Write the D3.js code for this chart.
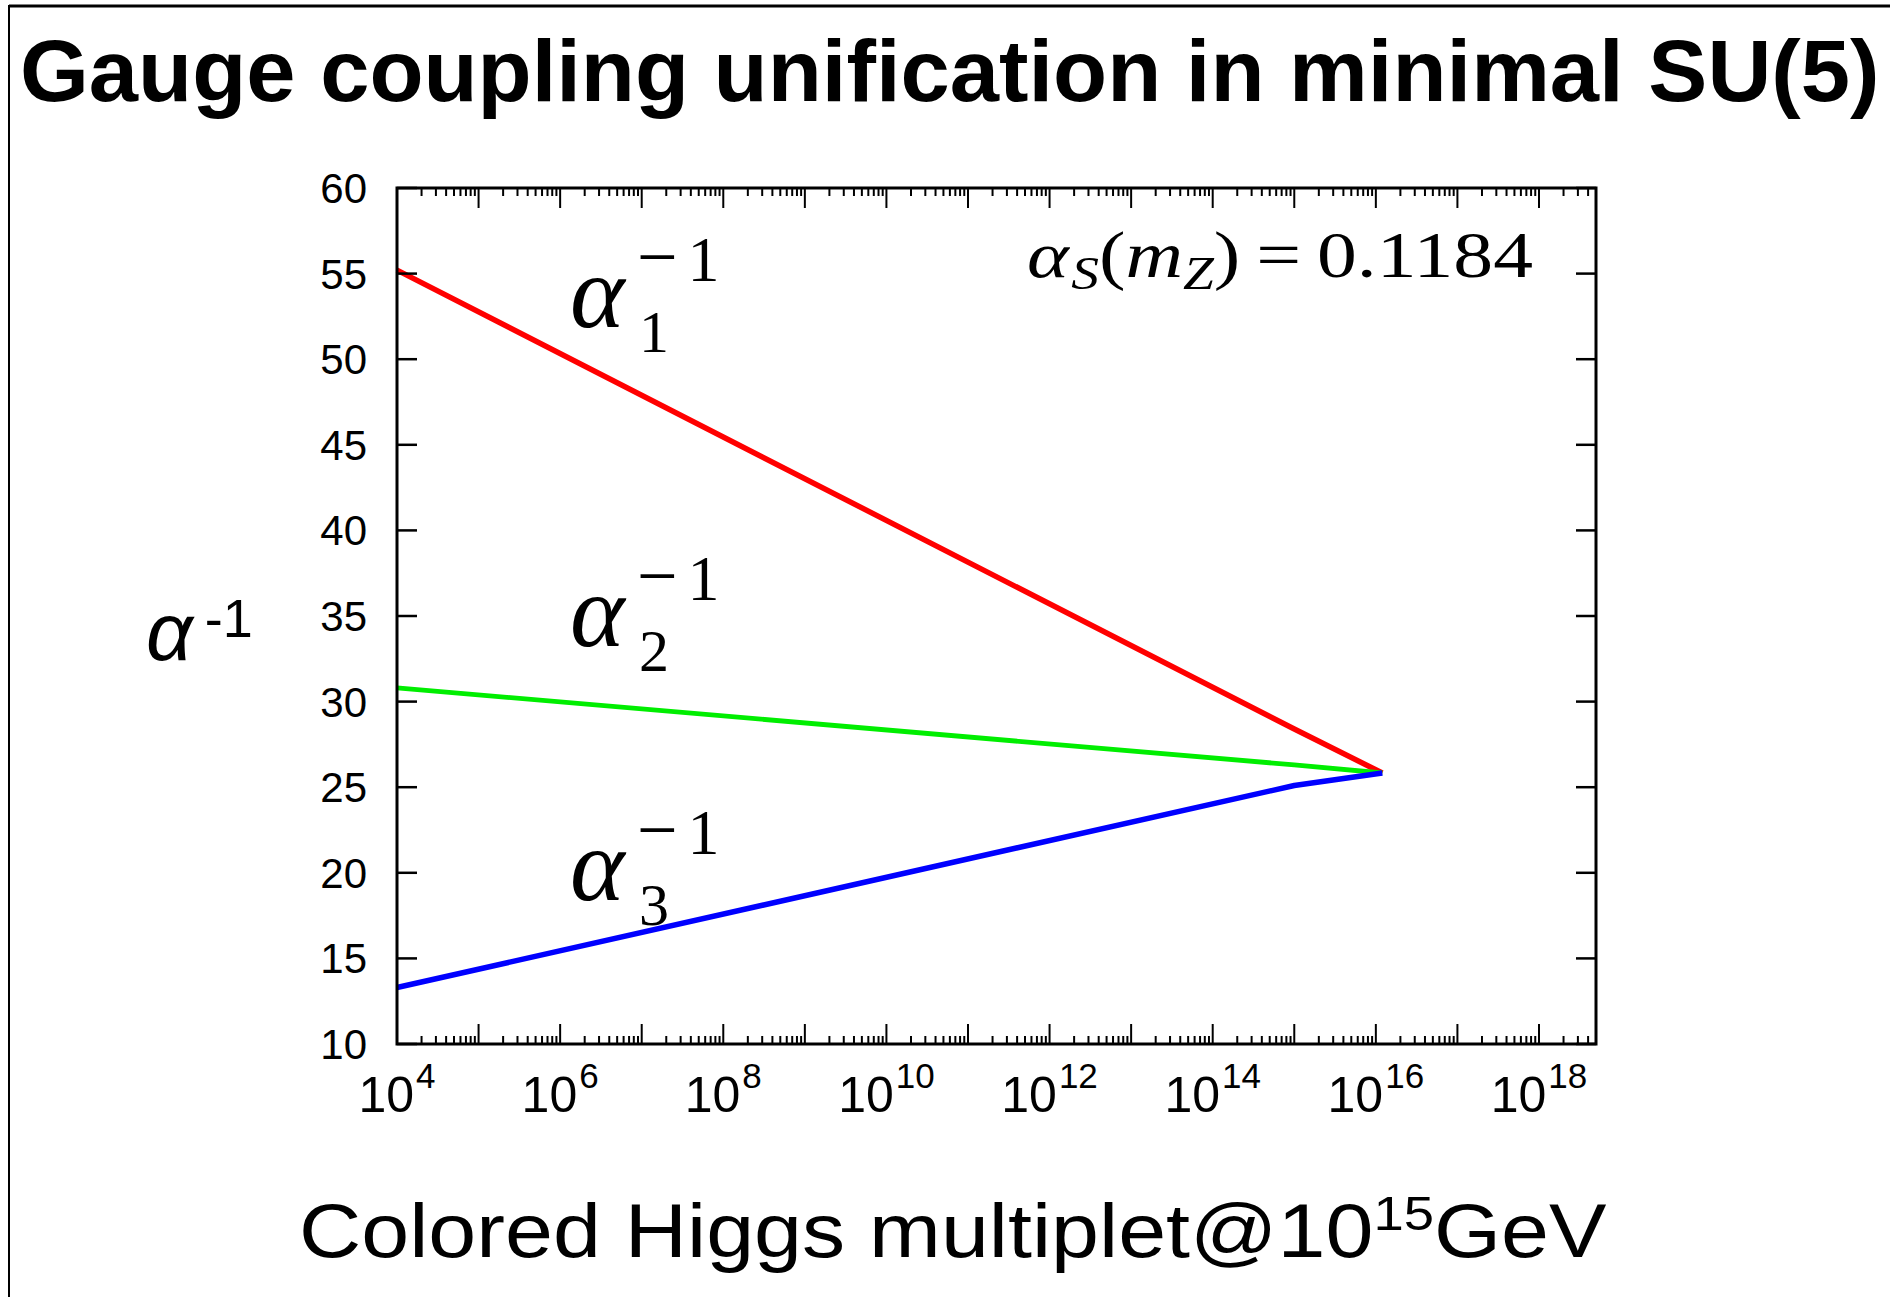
<!DOCTYPE html>
<html>
<head>
<meta charset="utf-8">
<script src="https://cdn.jsdelivr.net/npm/d3@7"></script>
<style>
  html, body { margin: 0; padding: 0; background: #fff; }
  svg { display: block; }
</style>
</head>
<body>
<svg id="chart" width="1890" height="1297"></svg>
<script>
// Renormalization scale (GeV) at the sampled points of each running coupling
const scaleGeV = [1e4, 1e15, 1.2e16];
// Inverse gauge couplings at those scales
const alpha1Inv = [55.2, 28.4, 25.83];
const alpha2Inv = [30.8, 26.3, 25.83];
const alpha3Inv = [13.3, 25.1, 25.83];

// Axis ticks
const xTickExponents = [4, 6, 8, 10, 12, 14, 16, 18];
const yTickValues = [10, 15, 20, 25, 30, 35, 40, 45, 50, 55, 60];

const titleText = "Gauge coupling unification in minimal SU(5)";

const svg = d3.select("#chart");

// Outer frame lines
svg.append("line").attr("x1", 9).attr("x2", 1890).attr("y1", 6).attr("y2", 6)
  .attr("stroke", "#000").attr("stroke-width", 3);
svg.append("line").attr("x1", 9).attr("x2", 9).attr("y1", 5).attr("y2", 1297)
  .attr("stroke", "#000").attr("stroke-width", 2);

// Stretch a text element horizontally so its ink spans [x0, x1]
function fitWidth(sel, x0, x1) {
  const bb = sel.node().getBBox();
  const s = (x1 - x0) / bb.width;
  sel.attr("transform", `translate(${x0},0) scale(${s},1) translate(${-bb.x},0)`);
}

// Title
const title = svg.append("text")
  .attr("x", 0).attr("y", 101)
  .attr("font-family", "'Liberation Sans', Arial, sans-serif")
  .attr("font-weight", "bold")
  .attr("font-size", 87)
  .attr("fill", "#000")
  .text(titleText);
fitWidth(title, 20, 1880);

// Plot area
const L = 397, R = 1596, T = 188, B = 1044;
const x = d3.scaleLog().domain([1e4, 5e18]).range([L, R]);
const y = d3.scaleLinear().domain([10, 60]).range([B, T]);

const plot = svg.append("g");

// Curves
const line = d3.line().x(d => x(d[0])).y(d => y(d[1]));
const series = [
  { vals: alpha1Inv, color: "#ff0000", w: 5.5 },
  { vals: alpha2Inv, color: "#00ee00", w: 4.8 },
  { vals: alpha3Inv, color: "#0000ff", w: 5.5 }
];
series.forEach(s => {
  plot.append("path")
    .datum(scaleGeV.map((e, i) => [e, s.vals[i]]))
    .attr("d", line)
    .attr("fill", "none")
    .attr("stroke", s.color)
    .attr("stroke-width", s.w)
    .attr("stroke-linejoin", "round");
});

// Minor/major tick values along the log axis
const xTickVals = [];
for (let k = 4; k <= 18; k++) {
  for (let m = 1; m <= 9; m++) {
    const v = m * Math.pow(10, k);
    if (v <= 5e18) xTickVals.push({ v, major: m === 1 });
  }
}

const axisColor = "#000";
// Bottom and top ticks (pointing inward)
xTickVals.forEach(t => {
  const len = t.major ? 20 : 8;
  plot.append("line").attr("x1", x(t.v)).attr("x2", x(t.v))
    .attr("y1", B).attr("y2", B - len).attr("stroke", axisColor).attr("stroke-width", 2);
  plot.append("line").attr("x1", x(t.v)).attr("x2", x(t.v))
    .attr("y1", T).attr("y2", T + len).attr("stroke", axisColor).attr("stroke-width", 2);
});
// Left and right ticks
yTickValues.forEach(v => {
  plot.append("line").attr("x1", L).attr("x2", L + 20)
    .attr("y1", y(v)).attr("y2", y(v)).attr("stroke", axisColor).attr("stroke-width", 2.5);
  plot.append("line").attr("x1", R).attr("x2", R - 20)
    .attr("y1", y(v)).attr("y2", y(v)).attr("stroke", axisColor).attr("stroke-width", 2.5);
});

// Frame of the plot
plot.append("rect").attr("x", L).attr("y", T).attr("width", R - L).attr("height", B - T)
  .attr("fill", "none").attr("stroke", axisColor).attr("stroke-width", 3);

const sans = "'Liberation Sans', Arial, Helvetica, sans-serif";
const serif = "'Liberation Serif', 'Times New Roman', serif";

// Y tick labels
plot.selectAll("text.ytl").data(yTickValues).join("text")
  .attr("class", "ytl")
  .attr("x", 367).attr("y", d => y(d) + 15)
  .attr("text-anchor", "end")
  .attr("font-family", sans).attr("font-size", 42)
  .text(d => d);

// X tick labels: 10^n
xTickExponents.forEach(n => {
  const t = plot.append("text")
    .attr("x", x(Math.pow(10, n))).attr("y", 1112)
    .attr("text-anchor", "middle")
    .attr("font-family", sans).attr("font-size", 50);
  t.append("tspan").text("10");
  t.append("tspan").attr("dx", 2).attr("dy", -24).attr("font-size", 35).text(n);
});

// Y axis title: α^-1
const yl = svg.append("text").attr("x", 146).attr("y", 660)
  .attr("font-family", sans).attr("fill", "#000");
yl.append("tspan").attr("font-size", 82).attr("font-style", "italic").text("α");
yl.append("tspan").attr("dx", 12).attr("dy", -23).attr("font-size", 54).text("-1");

// Curve labels α_i^{-1}: one text per label, sub- and superscript stacked
const labelBase = [
  { sub: "1", base: 327 },
  { sub: "2", base: 646 },
  { sub: "3", base: 900 }
];
labelBase.forEach(l => {
  const t = svg.append("text").attr("x", 570).attr("y", l.base)
    .attr("font-family", serif).attr("fill", "#000");
  t.append("tspan").attr("font-size", 104).attr("font-style", "italic").text("α");
  t.append("tspan").attr("x", 637).attr("y", l.base - 46).attr("font-size", 72).text("−");
  t.append("tspan").attr("dx", 10).attr("font-size", 64).text("1");
  t.append("tspan").attr("x", 639).attr("y", l.base + 25).attr("font-size", 60).text(l.sub);
});

// α_S(m_Z) annotation
const ann = svg.append("text").attr("x", 0).attr("y", 277)
  .attr("font-family", serif).attr("font-size", 66).attr("fill", "#000");
ann.append("tspan").attr("font-style", "italic").text("α");
ann.append("tspan").attr("font-style", "italic").attr("font-size", 46).attr("dy", 12).attr("dx", 2).text("S");
ann.append("tspan").attr("dy", -12).text("(");
ann.append("tspan").attr("font-style", "italic").text("m");
ann.append("tspan").attr("font-style", "italic").attr("font-size", 46).attr("dy", 12).text("Z");
ann.append("tspan").attr("dy", -12).text(")\u2009=\u20090.1184");
fitWidth(ann, 1027, 1533);

// X axis title
const xl = svg.append("text").attr("x", 0).attr("y", 1257)
  .attr("font-family", sans).attr("font-size", 76).attr("fill", "#000");
xl.append("tspan").text("Colored Higgs multiplet@10");
xl.append("tspan").attr("font-size", 48).attr("dy", -27).text("15");
xl.append("tspan").attr("dy", 27).text("GeV");
fitWidth(xl, 299, 1607);
</script>
</body>
</html>
